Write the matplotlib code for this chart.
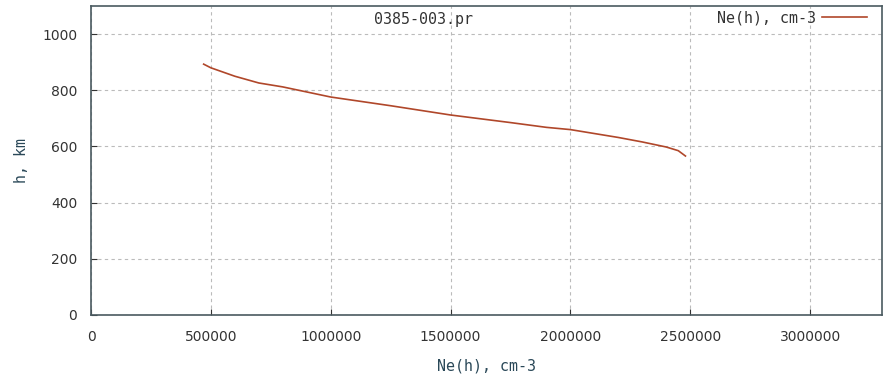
import numpy as np
import matplotlib.pyplot as plt

# electron density profile
ne = [470000, 500000, 600000, 700000, 800000, 1000000, 1250000, 1500000,
      1750000, 1900000, 2000000, 2200000, 2300000, 2400000, 2450000, 2480000]
h = [893, 880, 850, 826, 812, 776, 745, 712,
     685, 668, 660, 632, 616, 598, 585, 566]

xticks = [0, 500000, 1000000, 1500000, 2000000, 2500000, 3000000]
yticks = [0, 200, 400, 600, 800, 1000]

mono = 'DejaVu Sans Mono'
fig = plt.figure(figsize=(8.85, 3.76), dpi=100)
ax = fig.add_axes([91/885, 61/376, 791/885, 309/376])

ax.plot(ne, h, color='#b0472a', lw=1.2, label='Ne(h), cm-3')
ax.set_xlim(0, 3300000)
ax.set_ylim(0, 1100)
ax.set_xticks(xticks)
ax.set_yticks(yticks)
ax.set_xticklabels([str(v) for v in xticks])
ax.grid(True, ls=(0, (3, 3)), color='#bbbbbb', lw=0.8)
ax.tick_params(direction='in', length=4, colors='#333333', labelsize=10)
ax.tick_params(axis='x', pad=11)
ax.tick_params(axis='y', pad=10)
for s in ax.spines.values():
    s.set_color('#4a5a60')
    s.set_linewidth(1.2)

ax.set_xlabel('Ne(h), cm-3', family=mono, fontsize=10.8, color='#2a4858', labelpad=10)
ax.set_ylabel('h, km', family=mono, fontsize=10.8, color='#2a4858', labelpad=9)
ax.text(0.42, 0.955, '0385-003.pr', transform=ax.transAxes, ha='center', va='center',
        family=mono, fontsize=10.8, color='#333333')
leg = ax.legend(loc='upper right', bbox_to_anchor=(0.981, 0.985), frameon=False,
                markerfirst=False, handlelength=3.0, handletextpad=0.4,
                borderpad=0, borderaxespad=0, labelcolor='#333333',
                prop={'family': mono, 'size': 10.8})

fig.savefig('out.png', dpi=100)
